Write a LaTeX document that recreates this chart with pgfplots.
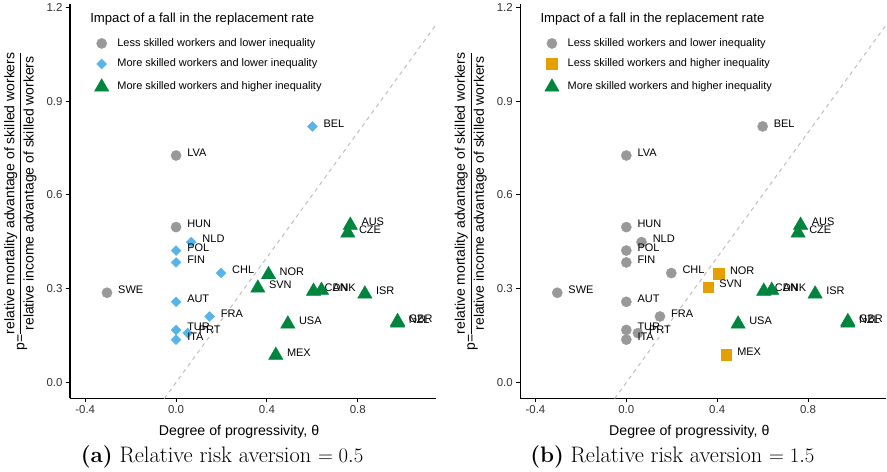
\documentclass[border=0pt]{standalone}
\usepackage{pgfplots}
\pgfplotsset{compat=1.18}
\usepackage{pgfplotstable}
\usepackage{fontspec}
\newfontfamily\arial{Liberation Sans}
\definecolor{cgray}{RGB}{153,153,153}
\definecolor{cblue}{RGB}{86,180,233}
\definecolor{cgreen}{RGB}{0,133,62}
\definecolor{corange}{RGB}{230,159,0}
\definecolor{cdash}{RGB}{190,190,190}

\pgfplotstableread{
x y label
0.000 0.726 LVA
0.000 0.497 HUN
-0.304 0.287 SWE
}\Lgray
\pgfplotstableread{
x y label
0.600 0.819 BEL
0.067 0.449 NLD
0.000 0.422 POL
0.000 0.384 FIN
0.198 0.350 CHL
0.000 0.258 AUT
0.148 0.211 FRA
0.000 0.168 TUR
0.051 0.158 PRT
0.000 0.137 ITA
}\Lblue
\pgfplotstableread{
x y label
0.767 0.503 AUS
0.756 0.478 CZE
0.407 0.345 NOR
0.360 0.302 SVN
0.605 0.292 CAN
0.640 0.295 DNK
0.831 0.283 ISR
0.492 0.187 USA
0.975 0.195 GBR
0.975 0.190 NZL
0.439 0.087 MEX
}\Lgreen
\pgfplotstableread{
x y label
0.000 0.726 LVA
0.000 0.497 HUN
-0.304 0.287 SWE
0.600 0.819 BEL
0.067 0.449 NLD
0.000 0.422 POL
0.000 0.384 FIN
0.198 0.350 CHL
0.000 0.258 AUT
0.148 0.211 FRA
0.000 0.168 TUR
0.051 0.158 PRT
0.000 0.137 ITA
}\Rgray
\pgfplotstableread{
x y label
0.407 0.347 NOR
0.360 0.305 SVN
0.439 0.089 MEX
}\Rorange
\pgfplotstableread{
x y label
0.767 0.503 AUS
0.756 0.478 CZE
0.605 0.292 CAN
0.640 0.295 DNK
0.831 0.283 ISR
0.492 0.187 USA
0.975 0.195 GBR
0.975 0.190 NZL
}\Rgreen

\pgfplotsset{
  myaxis/.style={
    width=366bp, height=394bp, scale only axis,
    xmin=-0.467, xmax=1.145, ymin=-0.051, ymax=1.21,
    axis x line*=bottom, axis y line*=left,
    axis line style={line width=1.1bp, -},
    xtick={-0.4,0,0.4,0.8}, ytick={0,0.3,0.6,0.9,1.2},
    tick align=outside, major tick length=4bp,
    tick style={line width=1bp, black},
    minor tick num=0,
    /pgf/number format/.cd, fixed, fixed zerofill, precision=1, assume math mode=true,
    /pgfplots/.cd,
    ticklabel style={font=\fontsize{11.5}{13}\selectfont\arial, text=black!80},
    every axis x label/.style={at={(axis description cs:0.5,0)}, anchor=center, xshift=-14bp, yshift=-33bp, font=\fontsize{14.2}{16}\selectfont\arial},
    every axis y label/.style={at={(axis description cs:-0.134,0.5)}, anchor=center, rotate=90, font=\fontsize{14}{16}\selectfont\arial},
    xlabel={Degree of progressivity, θ},
    ylabel={p=\begin{tabular}{@{}c@{}}relative mortality advantage of skilled workers\\[1bp]\hline\rule{0pt}{13bp}relative income advantage of skilled workers\end{tabular}},
    legend image code/.code={\draw[mark repeat=1,mark phase=1] plot coordinates {(0bp,0bp)};},
    legend style={at={(axis description cs:0.067,0.915)}, anchor=north west, draw=none, fill=none,
      inner sep=0pt, outer sep=0pt, column sep=7.5bp, row sep=9bp,
      font=\fontsize{11}{12}\selectfont\arial,
      nodes={inner sep=1bp, text height=7.5bp, text depth=2bp}},
    legend cell align=left,
  },
  lab/.style={only marks, nodes near coords, point meta=explicit symbolic,
    every node near coord/.append style={anchor=west, xshift=11bp, yshift=3bp, inner sep=0pt,
      font=\fontsize{11}{12}\selectfont\arial, text=black}},
  mcirc/.style={lab, mark=*, color=cgray, mark size=5.1bp},
  mdiam/.style={lab, mark=square*, color=cblue, mark size=3.5bp, mark options={rotate=45}},
  mtri/.style={lab, mark=triangle*, color=cgreen, mark size=8.3bp},
  msq/.style={lab, mark=square*, color=corange, mark size=5.3bp},
}

\begin{document}
\begin{tikzpicture}
\begin{axis}[myaxis, at={(0bp,0bp)}, anchor=south west]
\addplot[dash pattern=on 4bp off 4bp, color=cdash, line width=1bp, forget plot] coordinates {(-0.3,-0.3) (1.4,1.4)};
\addplot[mcirc] table[x=x, y=y, meta=label] {\Lgray};
\addlegendentry{Less skilled workers and lower inequality}
\addplot[mdiam] table[x=x, y=y, meta=label] {\Lblue};
\addlegendentry{More skilled workers and lower inequality}
\addplot[mtri] table[x=x, y=y, meta=label] {\Lgreen};
\addlegendentry{More skilled workers and higher inequality}
\node[anchor=west, font=\fontsize{13.2}{15}\selectfont\arial, inner sep=0pt] at (axis description cs:0.055,0.963) {Impact of a fall in the replacement rate};
\coordinate (capL) at (axis description cs:0.5,0);
\end{axis}
\begin{axis}[myaxis, at={(450bp,0bp)}, anchor=south west]
\addplot[dash pattern=on 4bp off 4bp, color=cdash, line width=1bp, forget plot] coordinates {(-0.3,-0.3) (1.4,1.4)};
\addplot[mcirc] table[x=x, y=y, meta=label] {\Rgray};
\addlegendentry{Less skilled workers and lower inequality}
\addplot[msq] table[x=x, y=y, meta=label] {\Rorange};
\addlegendentry{Less skilled workers and higher inequality}
\addplot[mtri] table[x=x, y=y, meta=label] {\Rgreen};
\addlegendentry{More skilled workers and higher inequality}
\node[anchor=west, font=\fontsize{13.2}{15}\selectfont\arial, inner sep=0pt] at (axis description cs:0.055,0.963) {Impact of a fall in the replacement rate};
\coordinate (capR) at (axis description cs:0.5,0);
\end{axis}
\node[font=\fontsize{22.5}{26}\selectfont] at ([xshift=-31bp, yshift=-58bp]capL) {\textbf{(a)} Relative risk aversion $=0.5$};
\node[font=\fontsize{22.5}{26}\selectfont] at ([xshift=-31bp, yshift=-58bp]capR) {\textbf{(b)} Relative risk aversion $=1.5$};
\end{tikzpicture}
\end{document}
